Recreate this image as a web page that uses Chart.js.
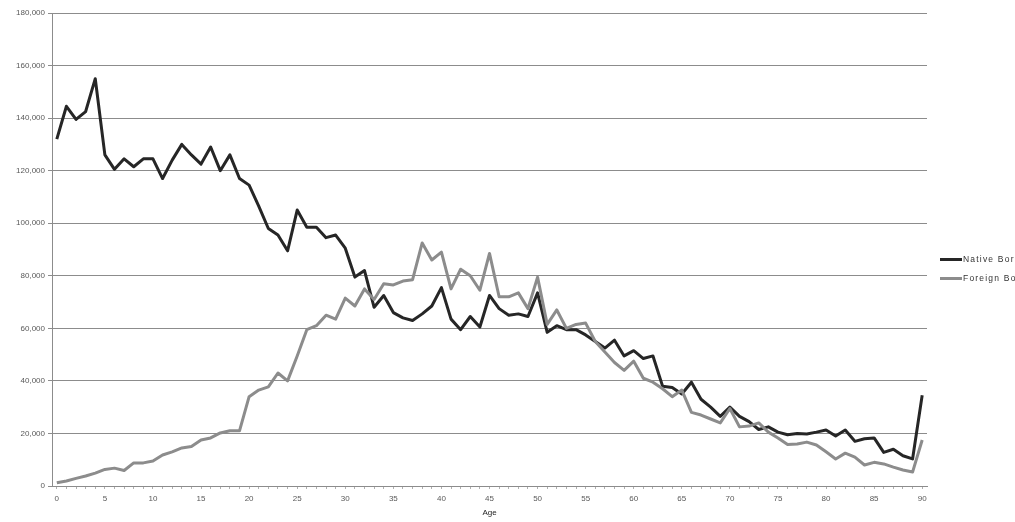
<!DOCTYPE html>
<html>
<head>
<meta charset="utf-8">
<script src="https://cdn.jsdelivr.net/npm/chart.js@4.4.1/dist/chart.umd.min.js"></script>
<style>
  html, body { margin: 0; padding: 0; background: #fff; overflow: hidden; }
  #wrap { position: relative; width: 1015px; height: 522px; overflow: hidden; }
  #legend { position: absolute; left: 940px; top: 252px; font: 8.5px "Liberation Sans", Arial, sans-serif;
            letter-spacing: 1.2px; color: #333; white-space: nowrap; }
  #legend .it { display: flex; align-items: center; height: 14px; margin-bottom: 5px; }
  #legend .sw { display: inline-block; width: 22px; height: 3px; margin-right: 1px; }
</style>
</head>
<body>
<div id="wrap">
  <canvas id="c" width="1015" height="522"></canvas>
  <div id="legend"></div>
</div>
<script>
/* Population by single year of age: Native Born vs Foreign Born (90 = 90+). */
const AGES = [0,1,2,3,4,5,6,7,8,9,10,11,12,13,14,15,16,17,18,19,20,21,22,23,24,25,26,27,28,29,
  30,31,32,33,34,35,36,37,38,39,40,41,42,43,44,45,46,47,48,49,50,51,52,53,54,55,56,57,58,59,
  60,61,62,63,64,65,66,67,68,69,70,71,72,73,74,75,76,77,78,79,80,81,82,83,84,85,86,87,88,89,90];

const NATIVE_BORN = [
  132000,144500,139500,142500,155000,126000,120500,124500,121500,124500,
  124500,117000,124000,130000,126000,122500,129000,120000,126000,117000,
  114500,106500,98000,95500,89500,105000,98500,98500,94500,95500,
  90500,79500,82000,68000,72500,66000,64000,63000,65500,68500,
  75500,63500,59500,64500,60500,72500,67500,65000,65500,64500,
  73500,58500,61000,59500,59500,57500,55000,52500,55500,49500,
  51500,48500,49500,38000,37500,35000,39500,33000,30000,26500,
  30000,26500,24500,21500,22500,20500,19500,20000,19800,20500,
  21300,19000,21300,17000,18000,18300,12800,14000,11500,10300,
  34500];

const FOREIGN_BORN = [
  1200,1900,2900,3800,4900,6300,6800,5900,8800,8800,
  9500,11800,13000,14500,15000,17500,18300,20200,21000,21000,
  34000,36500,37700,43000,40000,49500,59500,61000,65000,63500,
  71500,68500,75000,71000,77000,76500,78000,78500,92500,86000,
  89000,75000,82500,80000,74500,88500,72000,72000,73500,67500,
  79500,61500,67000,60000,61500,62000,55000,51000,47000,44000,
  47500,41000,39500,37000,34000,36500,28000,27000,25500,24000,
  29500,22500,22800,24000,20500,18300,15800,16000,16700,15600,
  13000,10300,12500,11000,8000,9000,8400,7200,6100,5300,
  17500];

const SERIES = ["Native Born", "Foreign Born"];
const COLORS = ["#262626", "#8c8c8c"];
const Y_TICKS = [0,20000,40000,60000,80000,100000,120000,140000,160000,180000];

const FONT = { family: "'Liberation Sans', Arial, sans-serif", size: 8 };

new Chart(document.getElementById("c"), {
  type: "line",
  data: {
    labels: AGES,
    datasets: [
      { label: SERIES[0], data: NATIVE_BORN, borderColor: COLORS[0], backgroundColor: COLORS[0],
        borderWidth: 3, pointRadius: 0, tension: 0, order: 1, borderJoinStyle: "round" },
      { label: SERIES[1], data: FOREIGN_BORN, borderColor: COLORS[1], backgroundColor: COLORS[1],
        borderWidth: 3, pointRadius: 0, tension: 0, order: 0, borderJoinStyle: "round" },
    ],
  },
  options: {
    responsive: false, animation: false,
    layout: { padding: { left: 0, right: 88, top: 13, bottom: 0 } },
    plugins: { legend: { display: false }, tooltip: { enabled: false } },
    scales: {
      x: {
        type: "category", offset: true,
        grid: { drawOnChartArea: false, drawTicks: true, tickLength: 3, color: "#b0b0b0" },
        border: { color: "#8c8c8c" },
        ticks: { autoSkip: false, maxRotation: 0, padding: 5, color: "#595959", font: FONT,
          callback: (v, i) => i % 5 === 0 ? String(AGES[i]) : "" },
        title: { display: true, text: "Age", color: "#222", font: FONT, padding: { top: 0, bottom: 4 } },
        afterFit: s => { s.height = 36; },
      },
      y: {
        min: 0, max: 180000,
        afterBuildTicks: s => { s.ticks = Y_TICKS.map(v => ({ value: v })); },
        grid: { color: "#8c8c8c", lineWidth: 1, tickLength: 4 },
        border: { color: "#8c8c8c" },
        ticks: { padding: 3, color: "#595959", font: FONT, callback: v => v.toLocaleString("en-US") },
        afterFit: s => { s.width = 52; },
      },
    },
  },
});

/* ---- legend, right of the plot (clipped by the window edge as in the source) ---- */
document.getElementById("legend").innerHTML = SERIES.map((s, i) =>
  `<div class="it"><span class="sw" style="background:${COLORS[i]}"></span>${s}</div>`).join("");
</script>
</body>
</html>
